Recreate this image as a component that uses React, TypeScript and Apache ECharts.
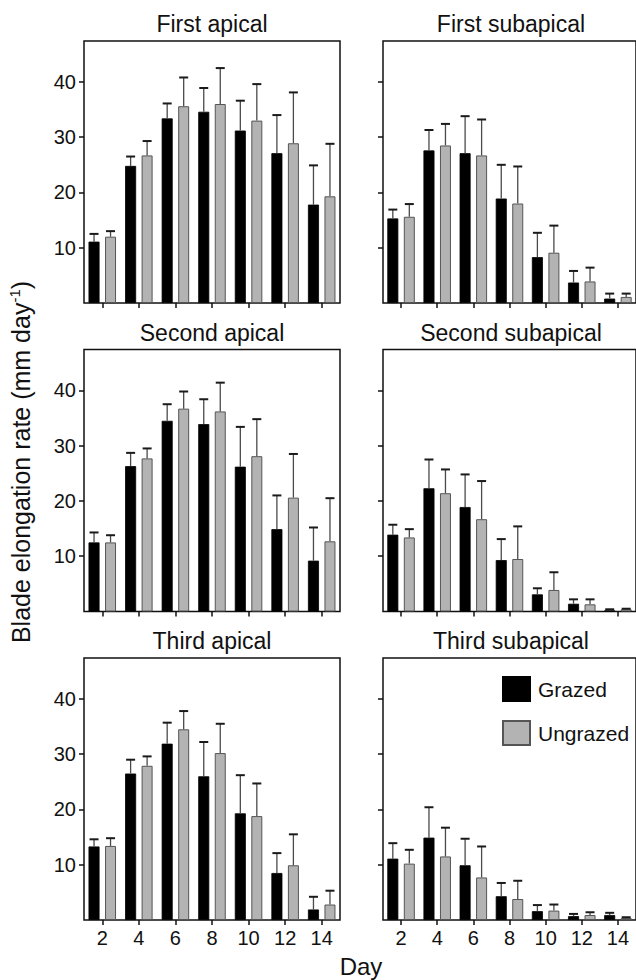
import React, { useEffect, useRef } from "react";
import * as echarts from "echarts";

const days = ["2", "4", "6", "8", "10", "12", "14"];
const yTicks = [10, 20, 30, 40];

const panelTitles = [
  "First apical",
  "First subapical",
  "Second apical",
  "Second subapical",
  "Third apical",
  "Third subapical",
];

// means and standard errors (mm day-1)
const firstApicalGrazed = [11.1, 24.8, 33.4, 34.6, 31.2, 27.1, 17.8];
const firstApicalGrazedSE = [1.4, 1.7, 2.7, 4.3, 5.4, 6.9, 7.1];
const firstApicalUngrazed = [12.0, 26.7, 35.6, 36.0, 33.0, 28.9, 19.3];
const firstApicalUngrazedSE = [1.0, 2.6, 5.2, 6.5, 6.6, 9.2, 9.5];

const firstSubGrazed = [15.3, 27.6, 27.1, 18.9, 8.3, 3.7, 0.8];
const firstSubGrazedSE = [1.6, 3.7, 6.7, 6.1, 4.4, 2.1, 0.9];
const firstSubUngrazed = [15.6, 28.5, 26.7, 18.0, 9.1, 3.9, 1.1];
const firstSubUngrazedSE = [2.3, 3.9, 6.5, 6.7, 4.9, 2.5, 0.6];

const secondApicalGrazed = [12.5, 26.3, 34.5, 33.9, 26.2, 14.9, 9.2];
const secondApicalGrazedSE = [1.8, 2.4, 3.0, 4.5, 7.2, 6.1, 6.0];
const secondApicalUngrazed = [12.5, 27.7, 36.7, 36.2, 28.1, 20.6, 12.7];
const secondApicalUngrazedSE = [1.3, 1.8, 3.1, 5.2, 6.7, 7.9, 7.8];

const secondSubGrazed = [13.9, 22.3, 18.9, 9.3, 3.1, 1.4, 0.2];
const secondSubGrazedSE = [1.8, 5.2, 5.9, 3.8, 1.1, 0.8, 0.2];
const secondSubUngrazed = [13.4, 21.4, 16.7, 9.5, 3.9, 1.3, 0.4];
const secondSubUngrazedSE = [1.5, 4.3, 6.9, 5.9, 3.2, 0.9, 0.1];

const thirdApicalGrazed = [13.3, 26.5, 31.9, 26.0, 19.3, 8.5, 1.9];
const thirdApicalGrazedSE = [1.3, 2.5, 3.8, 6.2, 6.9, 3.6, 2.3];
const thirdApicalUngrazed = [13.4, 27.9, 34.5, 30.2, 18.8, 9.9, 2.8];
const thirdApicalUngrazedSE = [1.4, 1.7, 3.3, 5.3, 5.9, 5.6, 2.5];

const thirdSubGrazed = [11.1, 14.9, 9.9, 4.3, 1.6, 0.7, 0.9];
const thirdSubGrazedSE = [2.8, 5.5, 4.8, 2.4, 1.1, 0.4, 0.4];
const thirdSubUngrazed = [10.2, 11.5, 7.7, 3.8, 1.7, 0.9, 0.35];
const thirdSubUngrazedSE = [2.5, 5.2, 5.6, 3.3, 1.1, 0.5, 0.15];

const panels = [
  [firstApicalGrazed, firstApicalGrazedSE, firstApicalUngrazed, firstApicalUngrazedSE],
  [firstSubGrazed, firstSubGrazedSE, firstSubUngrazed, firstSubUngrazedSE],
  [secondApicalGrazed, secondApicalGrazedSE, secondApicalUngrazed, secondApicalUngrazedSE],
  [secondSubGrazed, secondSubGrazedSE, secondSubUngrazed, secondSubUngrazedSE],
  [thirdApicalGrazed, thirdApicalGrazedSE, thirdApicalUngrazed, thirdApicalUngrazedSE],
  [thirdSubGrazed, thirdSubGrazedSE, thirdSubUngrazed, thirdSubUngrazedSE],
];

const FONT = "Liberation Sans, Arial, Helvetica, sans-serif";
const GRAY = "#b3b3b3";
const BAR_W = 11;
const BAR_GAP = 5.5;
const OFFSET = BAR_W / 2 + BAR_GAP / 2;

const gridLefts = [84, 383];
const gridTops = [41, 349.5, 658];
const GRID_W = 256;
const GRID_H = 262;

function errRenderer(offset: number) {
  return (params: any, api: any) => {
    const x = api.value(0);
    const m = api.value(1);
    const hi = api.value(2);
    const p0 = api.coord([x, m]);
    const p1 = api.coord([x, hi]);
    const cx = p0[0] + offset;
    return {
      type: "group",
      children: [
        {
          type: "line",
          shape: { x1: cx, y1: p0[1], x2: cx, y2: p1[1] },
          style: { stroke: "#4a4a4a", lineWidth: 1.3 },
        },
        {
          type: "line",
          shape: { x1: cx - 4.5, y1: p1[1], x2: cx + 4.5, y2: p1[1] },
          style: { stroke: "#1a1a1a", lineWidth: 2 },
        },
      ],
    };
  };
}

export default function App() {
  const ref = useRef<HTMLDivElement>(null);

  useEffect(() => {
    if (!ref.current) return;
    const chart = echarts.init(ref.current, undefined, { renderer: "svg" });

    const grids: any[] = [];
    const xAxes: any[] = [];
    const yAxes: any[] = [];
    const series: any[] = [];
    const graphics: any[] = [];

    panels.forEach((p, i) => {
      const row = Math.floor(i / 2);
      const col = i % 2;
      const left = gridLefts[col];
      const top = gridTops[row];
      grids.push({
        left,
        top,
        width: GRID_W,
        height: GRID_H,
        show: true,
        borderColor: "#111",
        borderWidth: 1.5,
        backgroundColor: "transparent",
      });
      xAxes.push({
        type: "category",
        gridIndex: i,
        data: days,
        boundaryGap: true,
        axisLine: { show: false },
        axisTick: {
          show: true,
          alignWithLabel: true,
          length: 5,
          inside: false,
          lineStyle: { color: "#111", width: 1.5 },
        },
        axisLabel: {
          show: row === 2,
          fontSize: 20,
          fontFamily: FONT,
          color: "#111",
          margin: 8,
        },
        splitLine: { show: false },
      });
      yAxes.push({
        type: "value",
        gridIndex: i,
        min: 0,
        max: 47.4,
        axisLine: { show: false },
        axisTick: {
          show: true,
          length: 5,
          inside: false,
          customValues: yTicks,
          lineStyle: { color: "#111", width: 1.5 },
        },
        axisLabel: {
          show: col === 0,
          customValues: yTicks,
          fontSize: 20,
          fontFamily: FONT,
          color: "#111",
          margin: 8,
        },
        splitLine: { show: false },
      });
      const [g, gse, u, use] = p;
      series.push({
        type: "bar",
        name: "Grazed",
        xAxisIndex: i,
        yAxisIndex: i,
        data: g,
        barWidth: BAR_W,
        barGap: (BAR_GAP / BAR_W) * 100 + "%",
        itemStyle: { color: "#000", borderColor: "#000", borderWidth: 0.8 },
      });
      series.push({
        type: "bar",
        name: "Ungrazed",
        xAxisIndex: i,
        yAxisIndex: i,
        data: u,
        barWidth: BAR_W,
        barGap: (BAR_GAP / BAR_W) * 100 + "%",
        itemStyle: { color: GRAY, borderColor: "#555", borderWidth: 1 },
      });
      series.push({
        type: "custom",
        xAxisIndex: i,
        yAxisIndex: i,
        z: 5,
        silent: true,
        renderItem: errRenderer(-OFFSET),
        encode: { x: 0, y: [1, 2] },
        data: g.map((v, k) => [k, v, v + gse[k]]),
      });
      series.push({
        type: "custom",
        xAxisIndex: i,
        yAxisIndex: i,
        z: 5,
        silent: true,
        renderItem: errRenderer(OFFSET),
        encode: { x: 0, y: [1, 2] },
        data: u.map((v, k) => [k, v, v + use[k]]),
      });
      graphics.push({
        type: "text",
        x: left + GRID_W / 2,
        y: top - 17,
        style: {
          text: panelTitles[i],
          fontSize: 23,
          fontFamily: FONT,
          fill: "#111",
          textAlign: "center",
          textVerticalAlign: "middle",
        },
      });
    });

    graphics.push({
      type: "text",
      x: 361,
      y: 966,
      style: {
        text: "Day",
        fontSize: 24,
        fontFamily: FONT,
        fill: "#111",
        textAlign: "center",
        textVerticalAlign: "middle",
      },
    });
    graphics.push({
      type: "text",
      x: 21,
      y: 462,
      rotation: Math.PI / 2,
      style: {
        text: "{a|Blade elongation rate (mm day}{s|-1}{a|)}",
        fontFamily: FONT,
        fill: "#111",
        textAlign: "center",
        textVerticalAlign: "middle",
        rich: {
          a: { fontSize: 25, fontFamily: FONT, fill: "#111", lineHeight: 28 },
          s: {
            fontSize: 15,
            fontFamily: FONT,
            fill: "#111",
            verticalAlign: "top",
            lineHeight: 28,
            padding: [0, 0, 10, 0],
          },
        },
      },
    });

    chart.setOption({
      animation: false,
      backgroundColor: "#fff",
      grid: grids,
      xAxis: xAxes,
      yAxis: yAxes,
      series,
      legend: {
        data: ["Grazed", "Ungrazed"],
        orient: "vertical",
        left: 497,
        top: 671,
        itemWidth: 27,
        itemHeight: 24,
        itemGap: 18,
        selectedMode: false,
        icon: "rect",
        textStyle: {
          fontSize: 21,
          fontFamily: FONT,
          color: "#111",
          padding: [0, 0, 0, 3],
        },
      },
      graphic: graphics,
    });

    return () => chart.dispose();
  }, []);

  return (
    <div
      ref={ref}
      style={{ position: "absolute", left: 0, top: 0, width: 636, height: 980 }}
    />
  );
}
